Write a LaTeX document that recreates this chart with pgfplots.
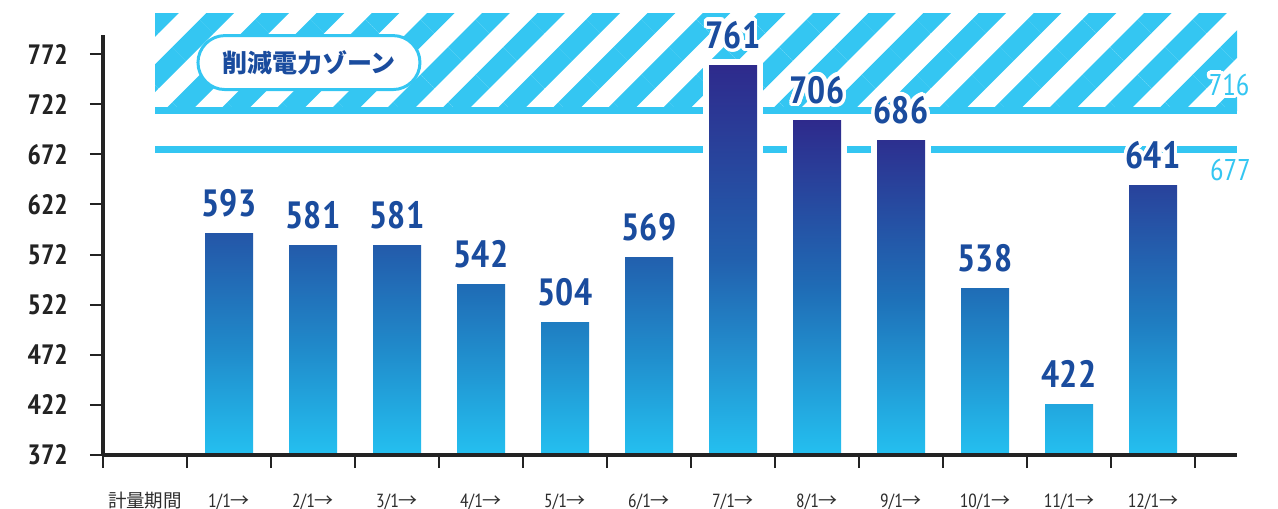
\documentclass[border=0pt]{standalone}
\usepackage{pgfplots}
\pgfplotsset{compat=1.18}
\usetikzlibrary{patterns.meta}
\usepackage{fontspec}
\usepackage{contour}
\setmainfont{PT Sans Narrow}
\newfontfamily\narrow{PT Sans Narrow}
\newfontfamily\cjk{Noto Sans CJK JP}
\definecolor{bcyan}{RGB}{36,192,240}
\definecolor{bblue}{RGB}{30,112,184}
\definecolor{bnavy}{RGB}{46,42,140}
\definecolor{zonecyan}{RGB}{52,198,242}
\definecolor{labelblue}{RGB}{26,76,158}
\definecolor{axisgray}{RGB}{35,35,35}
\definecolor{ticktext}{RGB}{45,45,45}
\contourlength{3.5pt}
\contournumber{32}
\newcommand\arr{{\cjk →}}
\newcommand\xl[1]{\mbox{\narrow\fontsize{19}{19}\selectfont #1\arr}}
% left, right, value, top colour, middle colour
\newcommand\mybar[5]{%
  \addplot[draw=white, fill=white, line width=12pt, mark=none] coordinates {(#1,372) (#2,372) (#2,#3) (#1,#3) (#1,372)};
  \addplot[draw=none, mark=none, top color=#4, bottom color=bcyan, middle color=#5] coordinates {(#1,372) (#2,372) (#2,#3) (#1,#3) (#1,372)};
}
\begin{document}
\begin{tikzpicture}
\useasboundingbox (0,0) rectangle (1278pt,509pt);
\begin{axis}[
  at={(103pt,54pt)}, anchor=south west,
  scale only axis, width=1134pt, height=420pt,
  xmin=-0.5, xmax=13, ymin=372, ymax=791,
  clip=false, axis on top,
  axis x line=bottom, axis y line=left,
  axis line style={-, line width=3.6pt, draw=axisgray},
  ytick={372,422,472,522,572,622,672,722,772},
  xtick={-0.5,0.5,...,12.5},
  x tick label as interval,
  xticklabels={\mbox{\cjk\fontsize{18.5}{19}\selectfont 計量期間},\xl{1/1},\xl{2/1},\xl{3/1},\xl{4/1},\xl{5/1},\xl{6/1},\xl{7/1},\xl{8/1},\xl{9/1},\xl{10/1},\xl{11/1},\xl{12/1}},
  tick align=outside,
  major tick length=13pt,
  tick style={line width=2pt, draw=axisgray},
  /pgf/number format/assume math mode=true,
  yticklabel style={font=\narrow\bfseries\fontsize{28}{28}\selectfont, text=axisgray, anchor=east, inner sep=0pt, xshift=-22pt},
  xticklabel style={text=ticktext, anchor=base, inner sep=0pt, yshift=-39pt},
  every axis plot/.append style={mark=none},
]
% zone
\addplot[draw=none, pattern={Lines[angle=45, distance=39pt, line width=19.5pt]}, pattern color=zonecyan]
  coordinates {(0.12,716) (13,716) (13,812) (0.12,812) (0.12,716)};
\addplot[zonecyan, line width=7pt] coordinates {(0.12,716) (13,716)};
\addplot[zonecyan, line width=7pt] coordinates {(0.12,677) (13,677)};
% bars
\mybar{0.7143}{1.2857}{593}{bnavy!37!bblue}{bblue!70!bcyan}
\mybar{1.7143}{2.2857}{581}{bnavy!30!bblue}{bblue!66!bcyan}
\mybar{2.7143}{3.2857}{581}{bnavy!30!bblue}{bblue!66!bcyan}
\mybar{3.7143}{4.2857}{542}{bnavy!7!bblue}{bblue!54!bcyan}
\mybar{4.7143}{5.2857}{504}{bblue!84!bcyan}{bblue!42!bcyan}
\mybar{5.7143}{6.2857}{569}{bnavy!23!bblue}{bblue!63!bcyan}
\mybar{6.7143}{7.2857}{761}{bnavy}{bnavy!22!bblue}
\mybar{7.7143}{8.2857}{706}{bnavy}{bnavy!6!bblue}
\mybar{8.7143}{9.2857}{686}{bnavy!92!bblue}{bblue}
\mybar{9.7143}{10.2857}{538}{bnavy!5!bblue}{bblue!53!bcyan}
\mybar{10.7143}{11.2857}{422}{bblue!32!bcyan}{bblue!16!bcyan}
\mybar{11.7143}{12.2857}{641}{bnavy!65!bblue}{bblue!85!bcyan}
% value labels
\addplot[draw=none, point meta=y,
  nodes near coords={\contour{white}{\pgfmathprintnumber{\pgfplotspointmeta}}},
  every node near coord/.append style={font=\narrow\bfseries\fontsize{38}{38}\selectfont, text=labelblue, anchor=base, inner sep=0pt, yshift=17pt}]
  coordinates {(1,593) (2,581) (3,581) (4,542) (5,504) (6,569) (7,761) (8,706) (9,686) (10,538) (11,422) (12,641)};
% zone label and thresholds
\node[draw=zonecyan, line width=3pt, fill=white, rounded corners=27pt, minimum width=222pt, minimum height=54pt, inner sep=0pt, text=labelblue, font=\cjk\bfseries\fontsize{25}{25}\selectfont] at (axis cs:1.952,763.5) {削減電力ゾーン};
\node[text=zonecyan, font=\narrow\fontsize{30}{30}\selectfont, inner sep=0pt] at (axis cs:12.905,739.6) {\contour{white}{716}};
\node[text=zonecyan, font=\narrow\fontsize{30}{30}\selectfont, inner sep=0pt] at (axis cs:12.92,654.3) {\contour{white}{677}};
\end{axis}
\end{tikzpicture}
\end{document}
